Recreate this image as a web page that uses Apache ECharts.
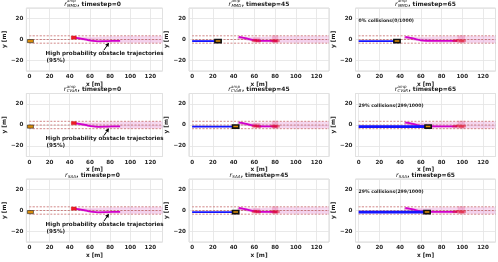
<!DOCTYPE html>
<html><head><meta charset="utf-8">
<script src="https://cdn.jsdelivr.net/npm/echarts@6/dist/echarts.min.js"></script>
<style>html,body{margin:0;padding:0;background:#fff}#c{width:498px;height:262px}</style>
</head><body><div id="c"></div>
<script>
// ---------------- data ----------------
const xTickValues = [0, 20, 40, 60, 80, 100, 120];
const yTickValues = [-20, 0, 20];
const methods = ['MMD', 'CVaR', 'SAA'];
const methodHasAmp = [true, true, false];
const timesteps = [0, 45, 65];
const laneLineY = [3.5, 0, -3.5];
const laneLineX = [0, 132];
const egoLaneY = -1.5;
// ego x position per [row][col]
const egoX = [[1, 25, 37], [1, 42, 67], [1, 42, 66]];
const obstacleStart = [[44, 1.8]];
// high probability obstacle trajectory (95%) per timestep column
const highProbTraj_t0 = [[44, 1.8], [48, 1.4], [53, 0.5], [58, -0.5], [63, -1.3], [68, -1.7], [75, -1.6], [82, -1.4], [90, -1.4]];
const highProbTraj_t45 = [[45, 2.6], [50, 1.6], [55, 0.4], [60, -0.6], [65, -1.2], [72, -1.4], [82, -1.3]];
const highProbTraj_t65 = [[45, 2.6], [50, 1.6], [55, 0.4], [60, -0.8], [66, -1.2], [75, -1.3], [95, -1.3]];
// sampled obstacle trajectories (faint band)
const sampleTraj_1 = [[44, 1.8], [60, 1.8], [80, 2.6], [132, 2.8]];
const sampleTraj_2 = [[44, 1.8], [60, 1.2], [80, 1.7], [132, 1.9]];
const sampleTraj_3 = [[44, 1.8], [60, 0.6], [80, 0.8], [132, 0.9]];
const sampleTraj_4 = [[44, 1.8], [60, 0.0], [80, -0.3], [132, -0.4]];
const sampleTraj_5 = [[44, 1.8], [60, -0.7], [80, -1.1], [132, -1.2]];
const sampleTraj_6 = [[44, 1.8], [60, -1.0], [80, -1.9], [132, -2.0]];
const sampleTraj_7 = [[44, 1.8], [60, -1.2], [80, -2.6], [132, -2.8]];
// obstacle samples at current time (red cluster) per column
const obstacleSamples_t45 = [[60, -1.1], [62, -0.7], [64, -1.4], [78, -0.9], [80, -1.5], [82, -1.1]];
const obstacleSamples_t65 = [[93, -1.2], [96, -0.8], [99, -1.5], [101, -1.0]];
const spreadZone_t45 = [[62, -0.5, 7, 5], [80, 0.3, 6, 7.5]];
const spreadZone_t65 = [[99, 0.3, 7, 7.5]];
const collisionLabels = [['', '0% collisions(0/1000)'], ['', '29% collisions(299/1000)'], ['', '29% collisions(299/1000)']];
const collisionLabelPos = [0, 18];
const annotationLines = ['High probability obstacle trajectories', '(95%)'];
const annotationPos = [[16, -13], [17, -20]];
const annotationArrow = [[74, -10], [79, -3]];

// ---------------- layout/style ----------------
const colLeft = [22.5, 189, 355.5];
const rowTop = [8, 93.5, 179];
const plotW = 140, plotH = 63;
const FONT = 'DejaVu Sans';
const tickFont = {fontFamily: FONT, fontWeight: 'bold', fontSize: 5.6, color: '#262626'};

const grids = [], xAxes = [], yAxes = [], series = [], graphics = [];
const highProb = [highProbTraj_t0, highProbTraj_t45, highProbTraj_t65];
const sampleTrajs = [sampleTraj_1, sampleTraj_2, sampleTraj_3, sampleTraj_4, sampleTraj_5, sampleTraj_6, sampleTraj_7];
const clusters = [[], obstacleSamples_t45, obstacleSamples_t65];
const zones = [[], spreadZone_t45, spreadZone_t65];

const measureCtx = document.createElement('canvas').getContext('2d');
function textW(str, font) { measureCtx.font = font; return measureCtx.measureText(str).width; }

function fmtTick(list) {
  return v => list.indexOf(Math.round(v)) >= 0 && Math.abs(v - Math.round(v)) < 1e-6 ? String(v).replace('-', '\u2212') : '';
}
function lineS(p, data, color, width, opacity, type) {
  return {type: 'line', xAxisIndex: p, yAxisIndex: p, data, symbol: 'none', silent: true, animation: false,
    smooth: 0.3, lineStyle: {color, width, opacity: opacity == null ? 1 : opacity, type: type || 'solid'}, z: 3};
}
function rectS(p, data, w, h, style, z) {
  return {type: 'custom', xAxisIndex: p, yAxisIndex: p, silent: true, animation: false, z: z || 4, data,
    renderItem: (params, api) => {
      const x = api.value(0), y = api.value(1);
      const ww = data[params.dataIndex][2] || w, hh = data[params.dataIndex][3] || h;
      const tl = api.coord([x - ww / 2, y + hh / 2]);
      const sz = api.size([ww, hh]);
      return {type: 'rect', shape: {x: tl[0], y: tl[1], width: sz[0], height: sz[1]}, style};
    }};
}
function textS(p, items, fontSize) {
  return {type: 'custom', xAxisIndex: p, yAxisIndex: p, silent: true, animation: false, z: 10,
    data: items.map(it => [it[0], it[1]]),
    renderItem: (params, api) => {
      const c = api.coord([api.value(0), api.value(1)]);
      return {type: 'text', x: c[0], y: c[1], style: {text: items[params.dataIndex][2], fontFamily: FONT,
        fontWeight: 'bold', fontSize, fill: '#1a1a1a', align: 'left', verticalAlign: 'middle'}};
    }};
}
function arrowS(p, arr) {
  return {type: 'custom', xAxisIndex: p, yAxisIndex: p, silent: true, animation: false, z: 10,
    data: [[arr[0][0], arr[0][1], arr[1][0], arr[1][1]]],
    renderItem: (params, api) => {
      const a = api.coord([api.value(0), api.value(1)]);
      const b = api.coord([api.value(2), api.value(3)]);
      const ang = Math.atan2(b[1] - a[1], b[0] - a[0]);
      const L = 4, W = 2;
      const bx = b[0] - L * Math.cos(ang), by = b[1] - L * Math.sin(ang);
      return {type: 'group', children: [
        {type: 'line', shape: {x1: a[0], y1: a[1], x2: bx, y2: by}, style: {stroke: '#000', lineWidth: 1}},
        {type: 'polygon', shape: {points: [[b[0], b[1]], [bx - W * Math.sin(ang), by + W * Math.cos(ang)], [bx + W * Math.sin(ang), by - W * Math.cos(ang)]]}, style: {fill: '#000'}}
      ]};
    }};
}

const F_R = 'italic 6.2px "DejaVu Sans"', F_SUB = 'italic 4px "DejaVu Sans"', F_T = 'bold 6px "DejaVu Sans"';

for (let r = 0; r < 3; r++) {
  for (let c = 0; c < 3; c++) {
    const p = r * 3 + c;
    grids.push({left: colLeft[c], top: rowTop[r], width: plotW, height: plotH, show: true,
      borderColor: '#cfcfcf', borderWidth: 0.8, backgroundColor: '#fff', containLabel: false});
    xAxes.push({type: 'value', gridIndex: p, min: -3, max: 132, splitNumber: 7,
      axisLine: {show: false}, axisTick: {show: false},
      splitLine: {show: true, lineStyle: {color: '#e3e3e3', width: 0.8}},
      axisLabel: Object.assign({margin: 3, formatter: fmtTick(xTickValues), showMinLabel: false, showMaxLabel: false}, tickFont),
      name: 'x [m]', nameLocation: 'middle', nameGap: 10,
      nameTextStyle: {fontFamily: FONT, fontWeight: 'bold', fontSize: 5.8, color: '#1a1a1a'}});
    yAxes.push({type: 'value', gridIndex: p, min: -30, max: 30, splitNumber: 3,
      axisLine: {show: false}, axisTick: {show: false},
      splitLine: {show: true, lineStyle: {color: '#e3e3e3', width: 0.8}},
      axisLabel: Object.assign({margin: 3, formatter: fmtTick(yTickValues), showMinLabel: false, showMaxLabel: false}, tickFont),
      name: 'y [m]', nameLocation: 'middle', nameGap: 14, nameRotate: 90,
      nameTextStyle: {fontFamily: FONT, fontWeight: 'bold', fontSize: 5.8, color: '#1a1a1a'}});

    if (zones[c].length) series.push(rectS(p, zones[c], 6, 6, {fill: '#f0709a', opacity: 0.4}, 2));
    sampleTrajs.forEach(t => series.push(lineS(p, t, '#e27fcf', 1.6, 0.2)));
    laneLineY.forEach(y => series.push(lineS(p, [[laneLineX[0], y], [laneLineX[1], y]], '#b5403f', 0.7, 0.9, [2, 1.5])));
    series.push(lineS(p, highProb[c], '#d000cc', 1.8, 1));
    if (clusters[c].length) series.push(rectS(p, clusters[c], 5, 2.4, {fill: '#e0102a', opacity: 0.5}, 5));
    if (c > 0) series.push(lineS(p, [[0, egoLaneY], [egoX[r][c], egoLaneY]], '#1515ff', r > 0 && c === 2 ? 2.6 : 1.8, 1));
    if (c === 0) series.push(rectS(p, obstacleStart, 5, 3, {fill: '#ee1c25', stroke: '#b00', lineWidth: 0.3}, 6));
    series.push(rectS(p, [[egoX[r][c], egoLaneY]], 6, 3,
      c === 0 ? {fill: '#d98c0a', stroke: '#222', lineWidth: 0.6} : {fill: '#e0900a', stroke: '#111', lineWidth: 1.6}, 7));
    if (c === 0) {
      series.push(textS(p, annotationLines.map((t, i) => [annotationPos[i][0], annotationPos[i][1], t]), 5.6));
      series.push(arrowS(p, annotationArrow));
    }
    if (collisionLabels[r][c - 1]) {
      series.push(textS(p, [[collisionLabelPos[0], collisionLabelPos[1], collisionLabels[r][c - 1]]], 4.6));
    }
    // title: r^{amp}_{METHOD}, timestep=N
    const cx = colLeft[c] + plotW / 2;
    const ty = rowTop[r] - 4;
    const sRest = ', timestep=' + timesteps[c];
    const wR = textW('r', F_R), wSub = textW(methods[r], F_SUB), wSup = methodHasAmp[r] ? textW('amp', F_SUB) : 0, wT = textW(sRest, F_T);
    const total = wR + Math.max(wSub, wSup) + 0.6 + wT;
    let x0 = cx - total / 2;
    graphics.push({type: 'text', x: x0, y: ty, silent: true, style: {text: 'r', font: F_R, fill: '#1a1a1a', align: 'left', verticalAlign: 'middle'}});
    graphics.push({type: 'text', x: x0 + wR + 0.3, y: ty + 1.6, silent: true, style: {text: methods[r], font: F_SUB, fill: '#1a1a1a', align: 'left', verticalAlign: 'middle'}});
    if (methodHasAmp[r]) graphics.push({type: 'text', x: x0 + wR + 0.3, y: ty - 2.6, silent: true, style: {text: 'amp', font: F_SUB, fill: '#1a1a1a', align: 'left', verticalAlign: 'middle'}});
    graphics.push({type: 'text', x: x0 + wR + Math.max(wSub, wSup) + 0.6, y: ty, silent: true, style: {text: sRest, font: F_T, fill: '#1a1a1a', align: 'left', verticalAlign: 'middle'}});
  }
}

const chart = echarts.init(document.getElementById('c'), null, {renderer: 'canvas'});
chart.setOption({animation: false, backgroundColor: '#fff', grid: grids, xAxis: xAxes, yAxis: yAxes, series, graphic: graphics});
</script></body></html>
